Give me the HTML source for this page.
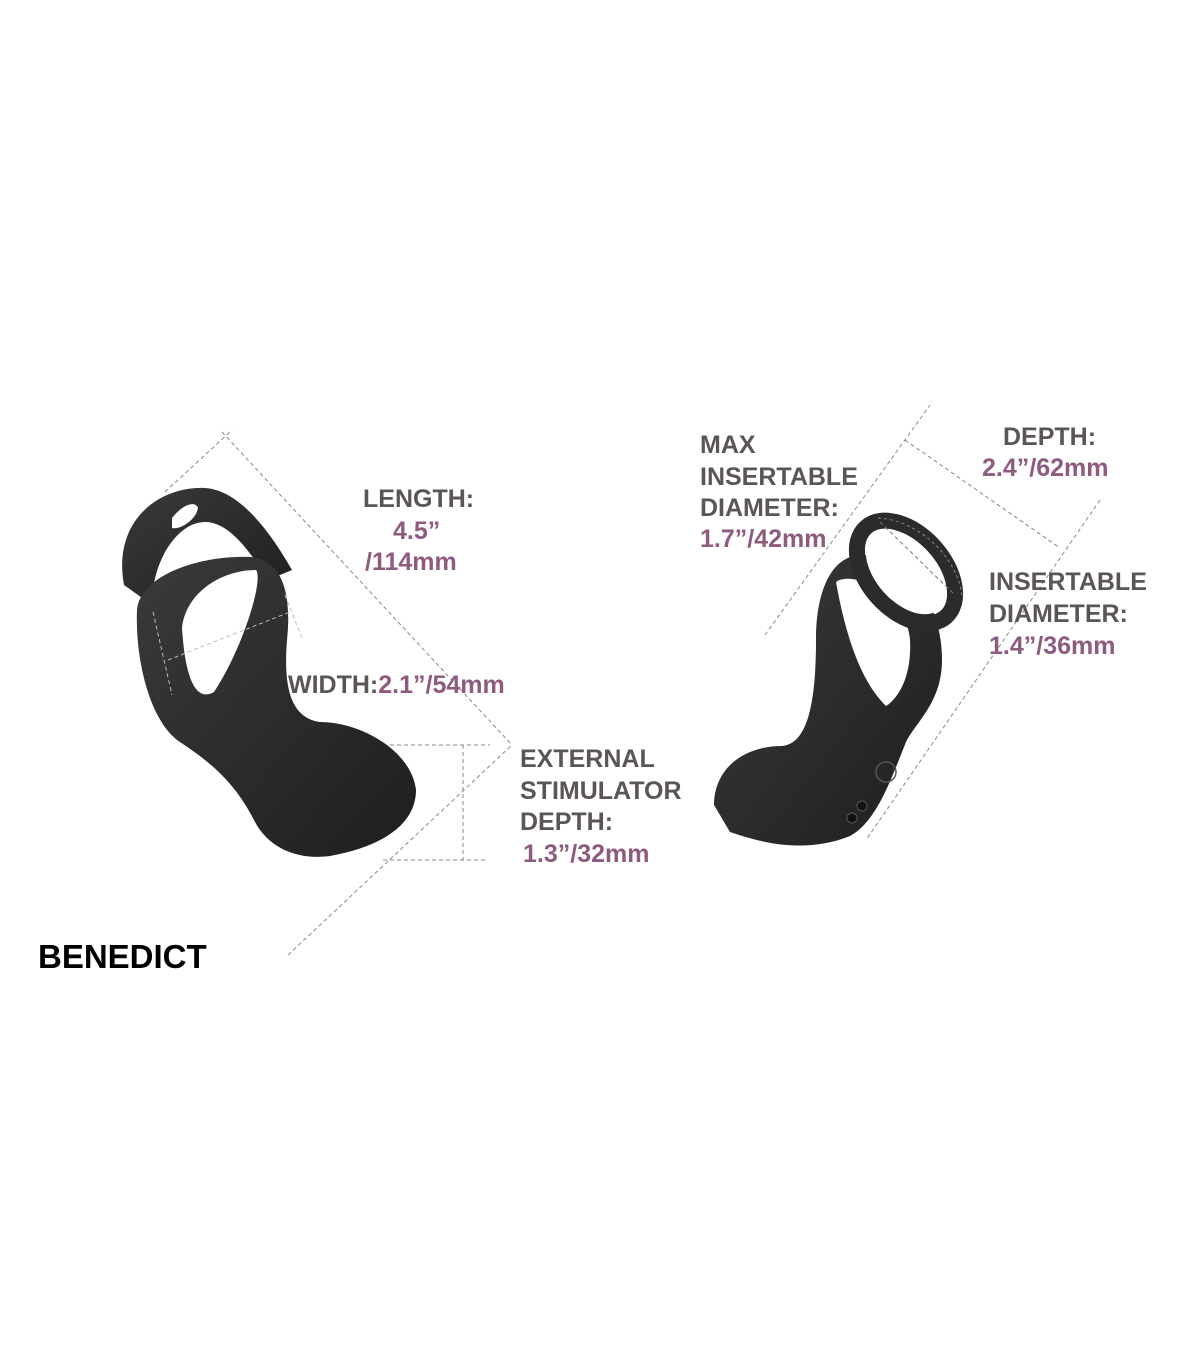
<!DOCTYPE html>
<html><head><meta charset="utf-8"><style>
html,body{margin:0;padding:0;background:#fff;}
svg{display:block}
text{font-family:"Liberation Sans",sans-serif;font-weight:bold;font-size:25px}
.g{fill:#5b5558}.p{fill:#8f5a7f}
</style></head><body>
<svg width="1200" height="1372" viewBox="0 0 1200 1372" xmlns="http://www.w3.org/2000/svg">
<defs>
<linearGradient id="dk" x1="0" y1="0" x2="1" y2="1">
<stop offset="0" stop-color="#3a3a3a"/><stop offset="1" stop-color="#1e1e1e"/></linearGradient>
</defs>
<g stroke="#888" stroke-width="1" stroke-dasharray="4,3" fill="none">
<line x1="165" y1="492" x2="232" y2="430"/>
<line x1="222" y1="432" x2="512" y2="745"/>
<line x1="288" y1="955" x2="512" y2="745"/>
<line x1="390" y1="745" x2="490" y2="745"/>
<line x1="383" y1="860" x2="488" y2="860"/>
<line x1="463" y1="745" x2="463" y2="860"/>
<line x1="765" y1="635" x2="930" y2="405"/>
<line x1="905" y1="440" x2="1060" y2="548"/>
<line x1="1100" y1="500" x2="866" y2="840"/>
</g>
<!-- left device -->
<path d="M124,585 C112,520 160,486 205,488 C238,490 268,528 292,570 L268,580 C248,548 228,522 205,522 C178,522 152,560 152,605 Z" fill="url(#dk)"/>
<path d="M172,518 C182,505 195,500 198,508 C196,520 180,530 172,528 Z" fill="#fff"/>
<path fill-rule="evenodd" fill="url(#dk)" d="M137,610 C140,575 200,555 250,557 C282,560 292,592 287,640 C283,690 292,718 320,722 C362,722 412,752 416,790 C416,822 386,846 330,856 C300,860 270,850 255,822 C235,782 210,762 180,742 C150,722 135,660 137,610 Z M182,628 C186,592 222,570 256,570 C264,580 242,650 214,692 C200,700 186,690 182,628 Z"/>
<g stroke="#bbb" stroke-width="1" stroke-dasharray="4,3" fill="none">
<line x1="153" y1="612" x2="172" y2="695"/>
<line x1="168" y1="660" x2="290" y2="612"/>
<line x1="285" y1="595" x2="302" y2="638"/>
</g>
<!-- right device -->
<path fill-rule="evenodd" fill="url(#dk)" d="M714,805 C714,770 742,746 782,746 C802,744 816,720 816,640 C816,590 832,555 862,555 C905,555 942,600 942,660 C942,702 916,722 906,742 C890,782 876,822 850,836 C810,852 770,846 730,832 Z M836,582 C852,570 906,592 910,640 C912,680 896,700 886,706 C870,690 850,660 836,582 Z"/>
<ellipse cx="906" cy="572" rx="60" ry="38" transform="rotate(48 906 572)" fill="none" stroke="#2b2b2b" stroke-width="16"/>
<ellipse cx="906" cy="572" rx="50" ry="30" transform="rotate(48 906 572)" fill="#fff"/>
<path d="M878,518 C920,520 960,560 962,598" fill="none" stroke="#888" stroke-dasharray="3,3"/>
<line x1="880" y1="522" x2="955" y2="595" stroke="#777" stroke-dasharray="4,3"/>
<circle cx="886" cy="772" r="10" fill="none" stroke="#555" stroke-width="1.5"/>
<circle cx="862" cy="806" r="5" fill="#111" stroke="#555"/>
<circle cx="852" cy="818" r="5" fill="#111" stroke="#555"/>
<!-- text -->
<text class="g" x="363" y="507">LENGTH:</text>
<text class="p" x="393" y="539">4.5”</text>
<text class="p" x="365" y="570">/114mm</text>
<text x="288" y="693"><tspan class="g">WIDTH:</tspan><tspan class="p">2.1”/54mm</tspan></text>
<text class="g" x="520" y="767">EXTERNAL</text>
<text class="g" x="520" y="799">STIMULATOR</text>
<text class="g" x="520" y="830">DEPTH:</text>
<text class="p" x="523" y="862">1.3”/32mm</text>
<text class="g" x="700" y="453">MAX</text>
<text class="g" x="700" y="485">INSERTABLE</text>
<text class="g" x="700" y="516">DIAMETER:</text>
<text class="p" x="700" y="547">1.7”/42mm</text>
<text class="g" x="1003" y="445">DEPTH:</text>
<text class="p" x="982" y="476">2.4”/62mm</text>
<text class="g" x="989" y="590">INSERTABLE</text>
<text class="g" x="989" y="622">DIAMETER:</text>
<text class="p" x="989" y="654">1.4”/36mm</text>
<text x="38" y="968" style="font-size:33px;fill:#000">BENEDICT</text>
</svg>
</body></html>
